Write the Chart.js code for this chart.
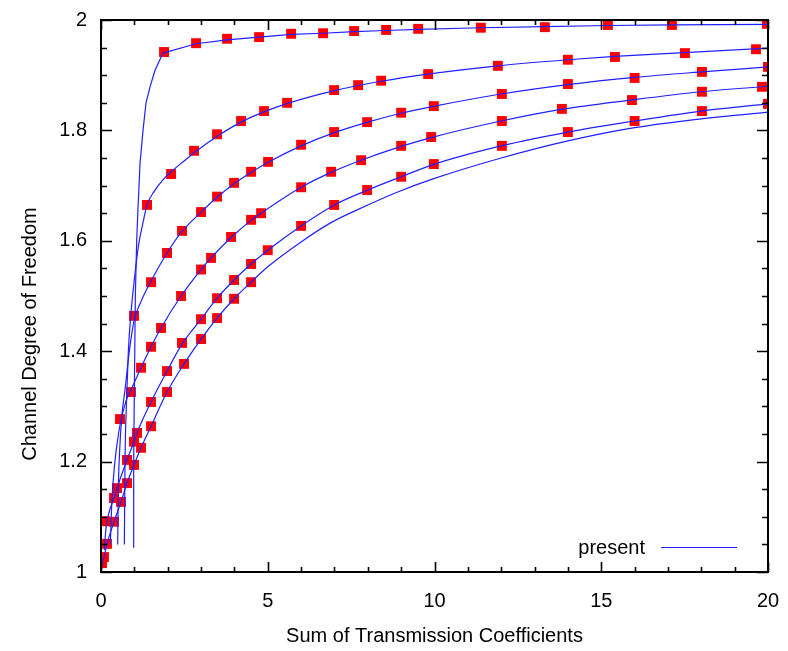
<!DOCTYPE html>
<html><head><meta charset="utf-8">
<script src="https://cdn.jsdelivr.net/npm/chart.js@4"></script>
<style>html,body{margin:0;padding:0;background:#fff}#wrap{width:788px;height:651px}</style>
</head><body><div id="wrap"><canvas id="c" width="788" height="651"></canvas></div>
<script>
// ---------- data ----------
const xTicks = [0, 5, 10, 15, 20];
const yTicks = [1, 1.2, 1.4, 1.6, 1.8, 2];
const xTitle = 'Sum of Transmission Coefficients';
const yTitle = 'Channel Degree of Freedom';
const legendLabel = 'present';

// "present" curves
const c1X = [0.96, 0.98, 1.0, 1.03, 1.07, 1.11, 1.17, 1.26, 1.35, 1.47, 1.62, 1.86, 2.85, 3.78, 4.74, 5.70, 6.66, 7.59, 8.55, 9.51, 11.39, 13.31, 15.20, 17.12, 20.0];
const c1Y = [1.045, 1.2, 1.33, 1.5, 1.6, 1.66, 1.74, 1.80, 1.85, 1.879, 1.909, 1.940, 1.957, 1.964, 1.969, 1.974, 1.976, 1.979, 1.981, 1.983, 1.986, 1.988, 1.990, 1.991, 1.992];
const c2X = [0.70, 0.72, 0.76, 0.82, 0.9, 1.0, 1.12, 1.25, 1.38, 1.6, 1.85, 2.1, 2.5, 2.8, 3.5, 4.2, 4.9, 5.6, 7.0, 8.4, 9.8, 11.9, 14.0, 15.4, 17.5, 20];
const c2Y = [1.05, 1.2, 1.3, 1.4, 1.47, 1.53, 1.59, 1.63, 1.665, 1.69, 1.71, 1.725, 1.745, 1.76, 1.79, 1.815, 1.834, 1.849, 1.872, 1.889, 1.902, 1.917, 1.928, 1.934, 1.941, 1.949];
const c3X = [0.50, 0.52, 0.56, 0.62, 0.72, 0.85, 0.99, 1.2, 1.5, 1.98, 2.43, 3.0, 3.48, 4.0, 4.5, 5.0, 6.0, 7.0, 8.0, 9.0, 10.0, 12.0, 14.0, 16.0, 18.0, 20.0];
const c3Y = [1.05, 1.15, 1.22, 1.28, 1.33, 1.40, 1.455, 1.49, 1.527, 1.578, 1.617, 1.652, 1.679, 1.704, 1.724, 1.742, 1.772, 1.796, 1.815, 1.831, 1.844, 1.866, 1.883, 1.896, 1.906, 1.915];
const c4X = [0.28, 0.32, 0.4, 0.55, 0.75, 0.9, 1.2, 1.5, 1.8, 2.4, 3.0, 3.3, 3.9, 4.5, 4.8, 6.0, 6.9, 7.8, 9.0, 9.9, 12.0, 13.8, 15.9, 18.0, 20.0];
const c4Y = [1.05, 1.12, 1.19, 1.26, 1.31, 1.33, 1.37, 1.408, 1.442, 1.500, 1.548, 1.569, 1.606, 1.637, 1.650, 1.697, 1.724, 1.746, 1.771, 1.787, 1.817, 1.838, 1.855, 1.870, 1.880];
const c5X = [0.1, 0.15, 0.25, 0.39, 0.48, 0.78, 0.99, 1.08, 1.5, 1.98, 2.45, 3.0, 3.48, 3.99, 4.5, 5.0, 6.0, 7.0, 8.0, 9.0, 10.0, 12.0, 14.0, 16.0, 18.0, 20.0];
const c5Y = [1.04, 1.08, 1.11, 1.134, 1.152, 1.203, 1.236, 1.252, 1.308, 1.364, 1.415, 1.458, 1.496, 1.529, 1.558, 1.583, 1.627, 1.665, 1.692, 1.716, 1.739, 1.772, 1.797, 1.817, 1.835, 1.848];
const c6X = [0.01, 0.03, 0.09, 0.18, 0.39, 0.60, 0.78, 0.99, 1.20, 1.50, 1.98, 2.49, 3.0, 3.48, 3.99, 4.5, 5.0, 6.0, 6.87, 7.68, 8.88, 10.0, 12.0, 14.0, 16.0, 18.0, 20.0];
const c6Y = [1.0, 1.016, 1.027, 1.051, 1.091, 1.127, 1.161, 1.194, 1.225, 1.264, 1.326, 1.377, 1.422, 1.460, 1.495, 1.525, 1.553, 1.598, 1.632, 1.656, 1.688, 1.713, 1.750, 1.781, 1.805, 1.821, 1.833];

// reference points (red squares)
const m1X = [1.89, 2.85, 3.78, 4.74, 5.70, 6.66, 7.59, 8.55, 9.51, 11.39, 13.31, 15.20, 17.12, 19.97];
const m1Y = [1.942, 1.958, 1.966, 1.969, 1.975, 1.976, 1.980, 1.982, 1.984, 1.986, 1.987, 1.991, 1.991, 1.993];
const m2X = [1.38, 2.10, 2.79, 3.48, 4.20, 4.89, 5.58, 6.99, 7.71, 8.40, 9.81, 11.9, 14.0, 15.41, 17.51, 19.64];
const m2Y = [1.665, 1.721, 1.763, 1.793, 1.817, 1.835, 1.850, 1.873, 1.882, 1.890, 1.902, 1.917, 1.928, 1.933, 1.940, 1.947];
const m3X = [0.99, 1.50, 1.98, 2.43, 3.0, 3.48, 3.99, 4.5, 5.01, 6.0, 6.99, 7.98, 9.0, 9.98, 12.02, 14.0, 16.0, 18.02, 20.0];
const m3Y = [1.464, 1.525, 1.578, 1.618, 1.652, 1.680, 1.705, 1.725, 1.743, 1.774, 1.797, 1.815, 1.832, 1.844, 1.866, 1.884, 1.895, 1.906, 1.915];
const m4X = [0.57, 0.90, 1.20, 1.50, 1.80, 2.40, 3.0, 3.3, 3.9, 4.5, 4.8, 6.0, 6.9, 7.8, 9.0, 9.9, 12.02, 13.82, 15.92, 18.02, 19.82];
const m4Y = [1.277, 1.326, 1.370, 1.408, 1.442, 1.500, 1.548, 1.569, 1.607, 1.638, 1.650, 1.697, 1.725, 1.746, 1.772, 1.788, 1.817, 1.839, 1.855, 1.870, 1.879];
const m5X = [0.12, 0.39, 0.48, 0.78, 0.99, 1.08, 1.50, 1.98, 2.43, 3.0, 3.48, 3.99, 4.5, 5.0, 6.0, 6.99, 7.98, 9.0, 9.98, 12.02, 14.0, 16.0, 18.02, 20.0];
const m5Y = [1.092, 1.134, 1.152, 1.203, 1.236, 1.252, 1.308, 1.364, 1.415, 1.458, 1.496, 1.529, 1.558, 1.583, 1.627, 1.665, 1.692, 1.716, 1.739, 1.772, 1.797, 1.817, 1.835, 1.848];
const m6X = [0.03, 0.09, 0.18, 0.39, 0.60, 0.78, 0.99, 1.20, 1.50, 1.98, 2.49, 3.0, 3.48, 3.99, 4.5];
const m6Y = [1.016, 1.027, 1.051, 1.091, 1.127, 1.161, 1.194, 1.225, 1.264, 1.326, 1.377, 1.422, 1.460, 1.495, 1.525];

// ---------- build chart ----------
const FONT = '"Liberation Sans", Arial, Helvetica, sans-serif';
const LINE_COLOR = '#2020ff';
const MARK_COLOR = '#ff0000';
const pts = (xs, ys) => xs.map((x, i) => ({ x: x, y: ys[i] }));

const curves = [[c1X, c1Y], [c2X, c2Y], [c3X, c3Y], [c4X, c4Y], [c5X, c5Y], [c6X, c6Y]];
const marks = [[m1X, m1Y], [m2X, m2Y], [m3X, m3Y], [m4X, m4Y], [m5X, m5Y], [m6X, m6Y]];

const datasets = [];
curves.forEach((c, i) => datasets.push(Object.assign({
  label: legendLabel, data: pts(c[0], c[1]), showLine: true, borderColor: LINE_COLOR,
  borderWidth: 1.2, pointRadius: 0, order: 1
}, i === 0 ? { tension: 0 } : { cubicInterpolationMode: 'monotone' })));
marks.forEach((m, i) => datasets.push({
  label: 'ref' + (i + 1), data: pts(m[0], m[1]), showLine: false, pointStyle: 'rect',
  pointRadius: 7, backgroundColor: MARK_COLOR, borderWidth: 0, order: 2
}));

const framePlugin = {
  id: 'frame',
  afterDraw(chart) {
    const ctx = chart.ctx, a = chart.chartArea, xs = chart.scales.x, ys = chart.scales.y;
    ctx.save();
    ctx.strokeStyle = '#000';
    ctx.lineWidth = 1.6;
    ctx.beginPath();
    for (let v = 0; v <= 20; v += 1) {
      const px = Math.round(xs.getPixelForValue(v)) + 0.5;
      const len = (v % 5 === 0) ? 10 : 5;
      ctx.moveTo(px, a.bottom); ctx.lineTo(px, a.bottom - len);
      ctx.moveTo(px, a.top); ctx.lineTo(px, a.top + len);
    }
    for (let k = 0; k <= 20; k++) {
      const v = 1 + k * 0.05;
      const py = Math.round(ys.getPixelForValue(v)) + 0.5;
      const len = (k % 4 === 0) ? 11 : 6;
      ctx.moveTo(a.left, py); ctx.lineTo(a.left + len, py);
      ctx.moveTo(a.right, py); ctx.lineTo(a.right - len, py);
    }
    ctx.stroke();
    ctx.lineWidth = 2;
    ctx.strokeRect(a.left, a.top, a.right - a.left, a.bottom - a.top);
    ctx.fillStyle = '#000';
    ctx.font = '20px ' + FONT;
    ctx.textAlign = 'center';
    ctx.textBaseline = 'middle';
    ctx.translate(30, 334);
    ctx.rotate(-Math.PI / 2);
    ctx.fillText(yTitle, 0, 0);
    ctx.restore();
    ctx.save();
    ctx.fillStyle = '#000';
    ctx.font = '20px ' + FONT;
    ctx.textAlign = 'right';
    ctx.textBaseline = 'middle';
    ctx.fillText(legendLabel, 645, 548);
    ctx.strokeStyle = LINE_COLOR;
    ctx.lineWidth = 1.2;
    ctx.beginPath();
    ctx.moveTo(661, 547.5); ctx.lineTo(737, 547.5);
    ctx.stroke();
    ctx.restore();
  }
};

new Chart(document.getElementById('c'), {
  type: 'scatter',
  data: { datasets: datasets },
  options: {
    responsive: false, animation: false, devicePixelRatio: 1,
    layout: { padding: { left: 0, right: 20, top: 20, bottom: 0 } },
    plugins: { legend: { display: false }, tooltip: { enabled: false } },
    scales: {
      x: {
        type: 'linear', min: 0, max: 20,
        afterBuildTicks: s => { s.ticks = xTicks.map(v => ({ value: v })); },
        afterFit: s => { s.height = 79; s.paddingLeft = 0; s.paddingRight = 0; },
        ticks: { font: { family: FONT, size: 20 }, color: '#000', padding: 17, maxRotation: 0, autoSkip: false,
                 callback: v => String(v) },
        grid: { display: false, drawTicks: false }, border: { display: false },
        title: { display: true, text: xTitle, color: '#000', font: { family: FONT, size: 20 }, padding: { top: 0, bottom: 3 } }
      },
      y: {
        type: 'linear', min: 1, max: 2,
        afterBuildTicks: s => { s.ticks = yTicks.map(v => ({ value: v })); },
        afterFit: s => { s.width = 101; s.paddingTop = 0; s.paddingBottom = 0; },
        ticks: { font: { family: FONT, size: 20 }, color: '#000', padding: 14, autoSkip: false,
                 callback: v => String(Math.round(v * 10) / 10) },
        grid: { display: false, drawTicks: false }, border: { display: false }
      }
    }
  },
  plugins: [framePlugin]
});
</script>
</body></html>
